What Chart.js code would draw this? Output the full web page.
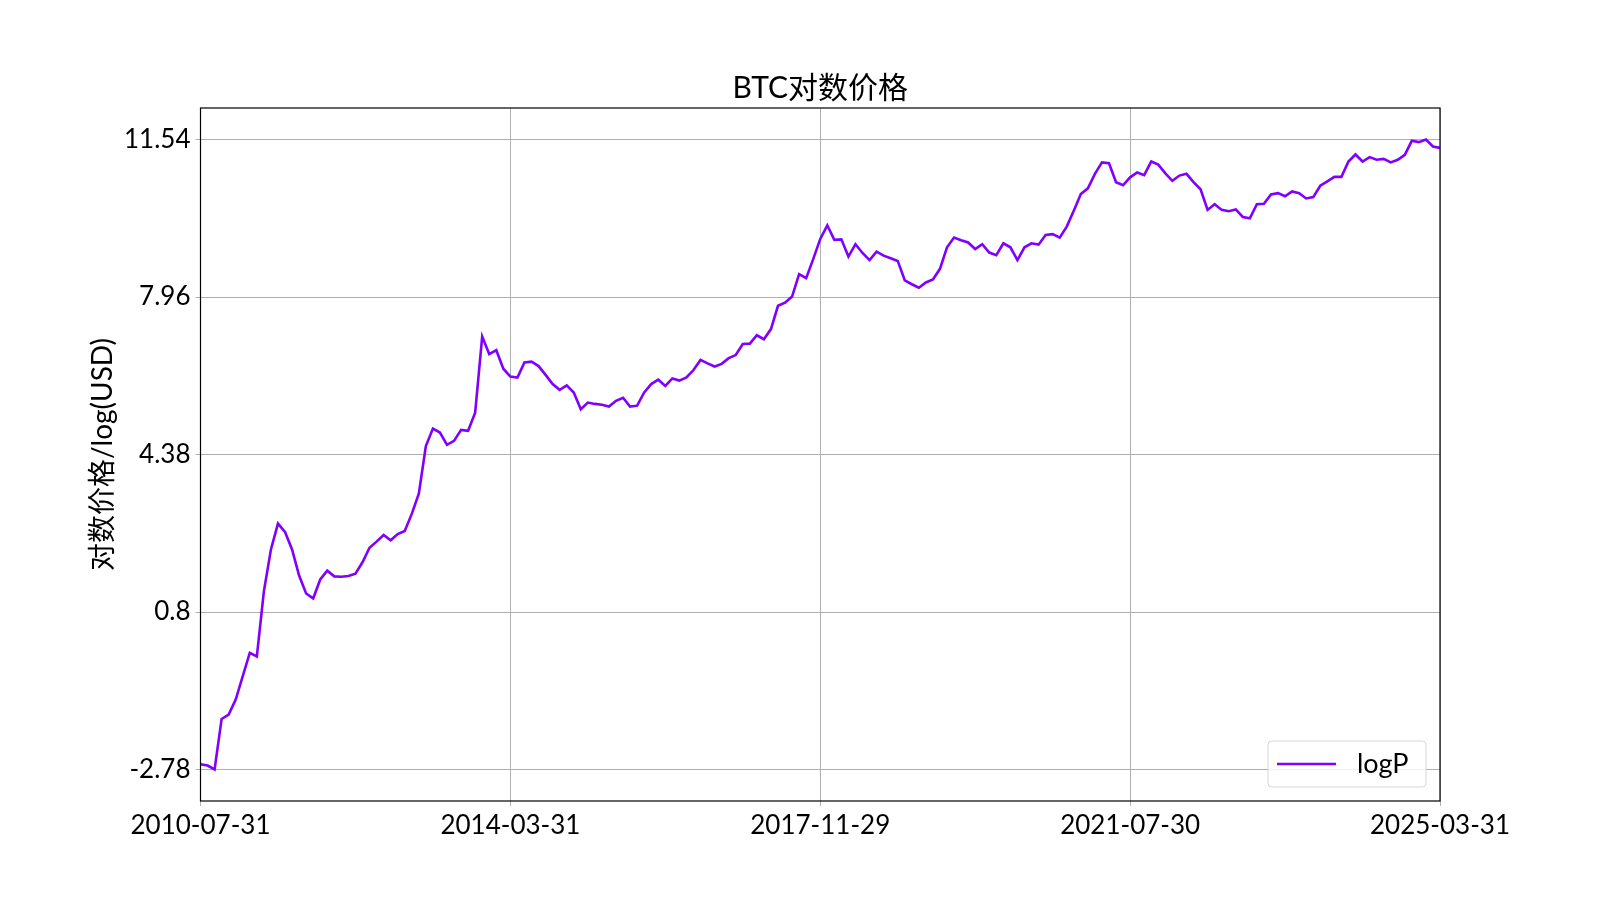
<!DOCTYPE html>
<html>
<head>
<meta charset="utf-8">
<script src="https://cdn.jsdelivr.net/npm/chart.js@4.4.1/dist/chart.umd.min.js"></script>
<style>
  body { margin: 0; background: #fff; }
  canvas { display: block; }
</style>
</head>
<body>
<canvas id="myChart" width="1600" height="900"></canvas>
<script>
// monthly log price, 2010-07 .. 2025-03 (177 months)
const logP = [
  -2.66, -2.69, -2.78, -1.63, -1.53, -1.19, -0.66, -0.13, -0.21, 1.27,
  2.22, 2.81, 2.62, 2.22, 1.63, 1.22, 1.11, 1.54, 1.74, 1.61,
  1.60, 1.62, 1.67, 1.93, 2.26, 2.40, 2.55, 2.43, 2.57, 2.64,
  3.03, 3.49, 4.57, 4.97, 4.88, 4.60, 4.69, 4.94, 4.92, 5.33,
  7.06, 6.66, 6.75, 6.33, 6.15, 6.13, 6.47, 6.49, 6.39, 6.19,
  5.98, 5.85, 5.95, 5.79, 5.41, 5.56, 5.53, 5.51, 5.47, 5.60,
  5.67, 5.47, 5.49, 5.79, 5.98, 6.08, 5.94, 6.11, 6.06, 6.13,
  6.30, 6.53, 6.45, 6.38, 6.44, 6.57, 6.64, 6.89, 6.90, 7.09,
  7.00, 7.23, 7.76, 7.83, 7.97, 8.48, 8.39, 8.82, 9.28, 9.59,
  9.26, 9.27, 8.88, 9.16, 8.96, 8.80, 8.99, 8.90, 8.84, 8.78,
  8.34, 8.25, 8.17, 8.29, 8.36, 8.60, 9.09, 9.31, 9.25, 9.20,
  9.05, 9.16, 8.97, 8.91, 9.18, 9.09, 8.80, 9.09, 9.18, 9.15,
  9.37, 9.39, 9.31, 9.56, 9.92, 10.30, 10.43, 10.76, 11.02, 11.00,
  10.57, 10.50, 10.68, 10.79, 10.73, 11.04, 10.97, 10.77, 10.60, 10.72,
  10.76, 10.57, 10.41, 9.94, 10.07, 9.94, 9.91, 9.95, 9.78, 9.75,
  10.07, 10.08, 10.29, 10.32, 10.25, 10.36, 10.32, 10.20, 10.23, 10.49,
  10.59, 10.69, 10.69, 11.04, 11.20, 11.04, 11.14, 11.08, 11.10, 11.02,
  11.08, 11.19, 11.51, 11.48, 11.54, 11.38, 11.35
];

// x tick positions (month index) and their labels
const xTickIdx = [0, 44, 88, 132, 176];
const xTickLabels = ['2010-07-31', '2014-03-31', '2017-11-29', '2021-07-30', '2025-03-31'];

// y ticks
const yTicks = [-2.78, 0.8, 4.38, 7.96, 11.54];

const chartTitle = 'BTC对数价格';
const FONT = "Lato, 'Noto Sans CJK SC', sans-serif";
const lineColor = '#7f00ff';
const gridColor = '#b0b0b0';

const points = logP.map((v, i) => ({x: i, y: v}));

// data range plus matplotlib-like 5% margin
const yMin = Math.min(...logP), yMax = Math.max(...logP);
const yPad = (yMax - yMin) * 0.05;

// axes frame + title centred over the plot area
const frame = {
  id: 'frame',
  afterDraw: (chart) => {
    const {ctx, chartArea: {left, top, width, height}} = chart;
    ctx.save();
    ctx.strokeStyle = '#000';
    ctx.lineWidth = 1.2;
    ctx.strokeRect(left, top, width, height);
    ctx.fillStyle = '#000';
    ctx.font = '30px ' + FONT;
    ctx.textAlign = 'center';
    ctx.textBaseline = 'middle';
    ctx.fillText(chartTitle, left + width / 2, top - 20);
    ctx.restore();
  }
};

const customLegend = {
  id: 'customLegend',
  afterDraw: (chart) => {
    const {ctx, chartArea: {right, bottom}} = chart;
    const w = 158, h = 46;
    const x = right - 14 - w, y = bottom - 14 - h;
    ctx.save();
    ctx.fillStyle = 'rgba(255,255,255,0.8)';
    ctx.strokeStyle = 'rgba(204,204,204,0.8)';
    ctx.lineWidth = 1;
    ctx.beginPath();
    ctx.roundRect(x, y, w, h, 4);
    ctx.fill();
    ctx.stroke();
    ctx.strokeStyle = lineColor;
    ctx.lineWidth = 2.7;
    ctx.beginPath();
    ctx.moveTo(x + 9, y + h / 2);
    ctx.lineTo(x + 68, y + h / 2);
    ctx.stroke();
    ctx.fillStyle = '#000';
    ctx.font = '27px ' + FONT;
    ctx.textAlign = 'left';
    ctx.textBaseline = 'middle';
    ctx.fillText('logP', x + 89, y + h / 2);
    ctx.restore();
  }
};

const config = {
  type: 'line',
  data: {
    datasets: [{
      label: 'logP',
      data: points,
      borderColor: lineColor,
      borderWidth: 2.6,
      pointRadius: 0,
      tension: 0,
      fill: false
    }]
  },
  options: {
    responsive: false,
    animation: false,
    devicePixelRatio: 1,
    layout: {padding: {left: 0, right: 160, top: 108, bottom: 0}},
    plugins: {
      legend: {display: false},
      tooltip: {enabled: false},
      title: {display: false}
    },
    scales: {
      x: {
        type: 'linear',
        min: 0,
        max: logP.length - 1,
        afterBuildTicks: (scale) => {
          scale.ticks = xTickIdx.map(v => ({value: v}));
        },
        afterFit: (scale) => { scale.height = 99; },
        ticks: {
          autoSkip: false,
          maxRotation: 0,
          color: '#000',
          padding: 4,
          font: {family: FONT, size: 26},
          callback: (value) => xTickLabels[xTickIdx.indexOf(value)]
        },
        grid: {color: gridColor, lineWidth: 1, tickLength: 5},
        border: {display: false}
      },
      y: {
        min: yMin - yPad,
        max: yMax + yPad,
        afterBuildTicks: (scale) => {
          scale.ticks = yTicks.map(v => ({value: v}));
        },
        afterFit: (scale) => { scale.width = 200.5; },
        ticks: {
          color: '#000',
          padding: 5,
          font: {family: FONT, size: 26},
          callback: (value) => String(value)
        },
        grid: {color: gridColor, lineWidth: 1, tickLength: 5},
        border: {display: false},
        title: {
          display: true,
          text: '对数价格/log(USD)',
          color: '#000',
          font: {family: FONT, size: 28},
          padding: {top: 86, bottom: 0}
        }
      }
    }
  },
  plugins: [frame, customLegend]
};

const myChart = new Chart(document.getElementById('myChart'), config);
</script>
</body>
</html>
